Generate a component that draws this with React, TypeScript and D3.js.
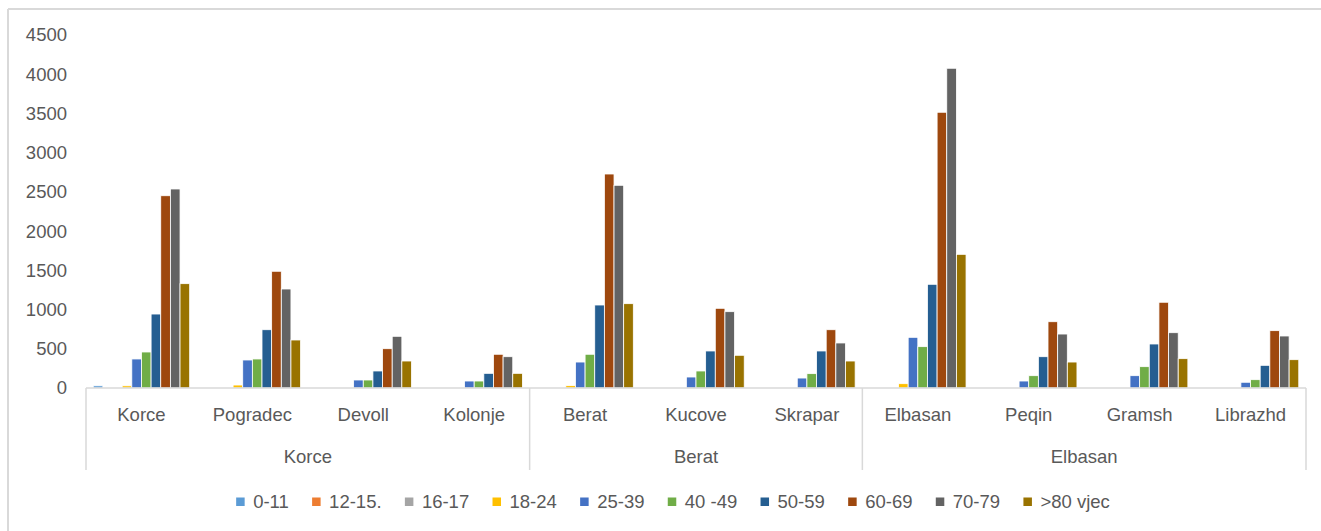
import React, { useEffect, useRef } from "react";
import * as d3 from "d3";

const categories = ["Korce", "Pogradec", "Devoll", "Kolonje", "Berat", "Kucove", "Skrapar", "Elbasan", "Peqin", "Gramsh", "Librazhd"];
const groupNames = ["Korce", "Berat", "Elbasan"];
const groupSizes = [4, 3, 4];
const seriesNames = ["0-11", "12-15.", "16-17", "18-24", "25-39", "40 -49", "50-59", "60-69", "70-79", ">80 vjec"];
const seriesColors = ["#5B9BD5", "#ED7D31", "#A5A5A5", "#FFC000", "#4472C4", "#70AD47", "#255E91", "#9E480E", "#636363", "#997300"];
const yTicks = [0, 500, 1000, 1500, 2000, 2500, 3000, 3500, 4000, 4500];

const s0_11 = [28, 0, 0, 0, 0, 0, 0, 0, 0, 0, 0];
const s12_15 = [0, 0, 0, 0, 0, 0, 0, 0, 0, 0, 0];
const s16_17 = [0, 0, 0, 0, 0, 0, 0, 0, 0, 0, 0];
const s18_24 = [28, 38, 0, 0, 30, 0, 0, 55, 0, 0, 0];
const s25_39 = [370, 357, 102, 89, 331, 140, 127, 646, 89, 157, 73];
const s40_49 = [459, 370, 102, 89, 430, 217, 183, 527, 157, 272, 106];
const s50_59 = [943, 743, 217, 187, 1058, 472, 472, 1322, 399, 561, 289];
const s60_69 = [2451, 1488, 501, 430, 2728, 1016, 743, 3515, 845, 1093, 731];
const s70_79 = [2537, 1262, 659, 399, 2584, 973, 574, 4076, 688, 705, 663];
const s80 = [1330, 612, 344, 187, 1075, 417, 344, 1704, 331, 374, 361];

const seriesValues = [s0_11, s12_15, s16_17, s18_24, s25_39, s40_49, s50_59, s60_69, s70_79, s80];

const W = 1321;
const H = 531;
const FONT = "'Liberation Sans', Arial, sans-serif";
const FS = 18.5;
const TXT = "#595959";
const GRID = "#D9D9D9";

export default function App() {
  const ref = useRef<SVGSVGElement>(null);

  useEffect(() => {
    const svg = d3.select(ref.current);
    svg.selectAll("*").remove();

    const left = 86, right = 1306, top = 35, base = 388;
    const x = d3.scaleBand<string>().domain(categories).range([left, right]).padding(0);
    const xs = d3.scaleBand<string>().domain(seriesNames).range([0, x.bandwidth()]).paddingInner(0).paddingOuter(0.75);
    const y = d3.scaleLinear().domain([0, 4500]).range([base, top]);

    // outer chart border (top and left visible)
    svg.append("line").attr("x1", 8).attr("x2", W).attr("y1", 9).attr("y2", 9).attr("stroke", GRID).attr("stroke-width", 2);
    svg.append("line").attr("x1", 8).attr("x2", 8).attr("y1", 9).attr("y2", H).attr("stroke", GRID).attr("stroke-width", 2);

    // y labels
    svg.append("g").selectAll("text").data(yTicks).join("text")
      .attr("x", 67).attr("y", (d) => y(d)).attr("dy", "0.35em")
      .attr("text-anchor", "end").attr("fill", TXT)
      .attr("font-family", FONT).attr("font-size", FS)
      .text((d) => String(d));

    // bars
    const g = svg.append("g");
    seriesNames.forEach((s, si) => {
      g.append("g").selectAll("rect").data(seriesValues[si]).join("rect")
        .attr("x", (_, i) => (x(categories[i]) as number) + (xs(s) as number))
        .attr("width", xs.bandwidth())
        .attr("y", (d) => y(d))
        .attr("height", (d) => base - y(d))
        .attr("fill", seriesColors[si])
        .attr("stroke", "#fff").attr("stroke-width", (d) => (d > 0 ? 0.8 : 0));
    });

    // axis line
    svg.append("line").attr("x1", left).attr("x2", right).attr("y1", base).attr("y2", base).attr("stroke", GRID).attr("stroke-width", 1.5);

    // group separators
    const bounds: number[] = [0];
    groupSizes.forEach((n) => bounds.push(bounds[bounds.length - 1] + n));
    bounds.forEach((b) => {
      const xx = b < categories.length ? (x(categories[b]) as number) : right;
      svg.append("line").attr("x1", xx).attr("x2", xx).attr("y1", base).attr("y2", 470).attr("stroke", GRID).attr("stroke-width", 1.5);
    });

    // category labels
    svg.append("g").selectAll("text").data(categories).join("text")
      .attr("x", (d) => (x(d) as number) + x.bandwidth() / 2).attr("y", 415).attr("dy", "0.35em")
      .attr("text-anchor", "middle").attr("fill", TXT)
      .attr("font-family", FONT).attr("font-size", FS)
      .text((d) => d);

    // group labels
    groupNames.forEach((gn, gi) => {
      const x0 = x(categories[bounds[gi]]) as number;
      const x1 = bounds[gi + 1] < categories.length ? (x(categories[bounds[gi + 1]]) as number) : right;
      svg.append("text").attr("x", (x0 + x1) / 2).attr("y", 456.5).attr("dy", "0.35em")
        .attr("text-anchor", "middle").attr("fill", TXT)
        .attr("font-family", FONT).attr("font-size", FS).text(gn);
    });

    // legend
    const lg = svg.append("g");
    const items = seriesNames.map((s, i) => {
      const it = lg.append("g");
      it.append("rect").attr("x", 0).attr("y", -4.5).attr("width", 8.5).attr("height", 8.5).attr("fill", seriesColors[i]);
      const t = it.append("text").attr("x", 17).attr("y", 0).attr("dy", "0.35em")
        .attr("fill", TXT).attr("font-family", FONT).attr("font-size", FS).text(s);
      const w = (t.node() as SVGTextElement).getComputedTextLength();
      return { it, w: 17 + w };
    });
    const gap = 23.3;
    const total = items.reduce((a, b) => a + b.w, 0) + gap * (items.length - 1);
    let cx = 673 - total / 2;
    items.forEach((o) => {
      o.it.attr("transform", `translate(${cx},502)`);
      cx += o.w + gap;
    });
  }, []);

  return (
    <svg ref={ref} width={W} height={H} style={{ position: "absolute", left: 0, top: 0, background: "#fff" }} />
  );
}
